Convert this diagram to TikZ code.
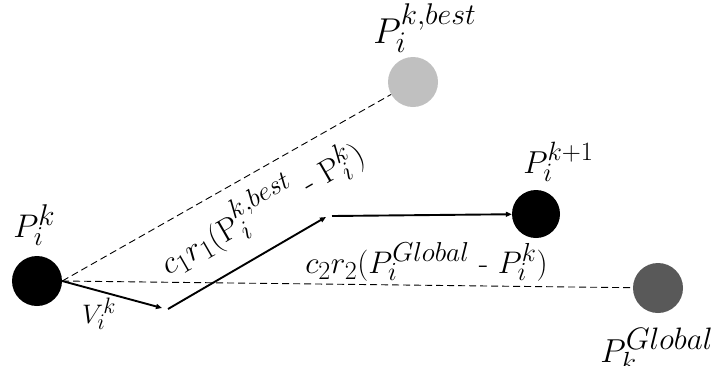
\documentclass[tikz,border=0pt]{standalone}
\usetikzlibrary{arrows.meta}
\definecolor{lgray}{RGB}{192,192,192}
\definecolor{dgray}{RGB}{89,89,89}
\begin{document}
\begin{tikzpicture}[x=1bp,y=-1bp,
  dot/.style={circle,inner sep=0pt,minimum size=50bp},
  guide/.style={dash pattern=on 7bp off 4bp,line width=0.9bp},
  mv/.style={line width=1.9bp,-{Triangle[length=6bp,width=5bp]}},
  lbl/.style={inner sep=0pt,anchor=base west,font=\Huge,transform shape}
]
\useasboundingbox (0,0) rectangle (711,365);
\node[dot,fill=black] (pik) at (37,281) {};
\node[dot,fill=lgray] (pbest) at (413,82) {};
\node[dot,fill=black,minimum size=48bp] (pnext) at (536,214) {};
\node[dot,fill=dgray] (pglob) at (658,288) {};
\coordinate (a1) at (162,308);
\coordinate (a2) at (168,309);
\coordinate (b1) at (326,217);
\coordinate (b2) at (332,216);
\draw[guide] (pik.east) -- (pbest);
\draw[guide] (pik.east) -- (pglob);
\draw[mv] (pik.east) -- (a1);
\draw[mv] (a2) -- (b1);
\draw[mv] (b2) -- (pnext);
\node[lbl,scale=1.32] (lpik) at (13,237) {$P_i^{\scalebox{1.1}{$\scriptstyle k$}}$};
\node[lbl,scale=1.45] (lbest) at (373,43) {$P_i^{k,best}$};
\node[lbl,scale=1.28] (lnext) at (523,173) {$P_i^{k+1}$};
\node[lbl,scale=1.34] (lglob) at (600,362) {$P_k^{\scalebox{1.12}{$\scriptstyle Global$}}$};
\node[lbl,scale=1.08] (lv) at (82,323) {$V_i^k$};
\node[lbl,rotate=30,scale=1.3] (lc1) at (168,276) {$c_1r_1(\mathrm{P}_i^{k,best}$ - $\mathrm{P}_i^k)$};
\node[lbl,scale=1.26] (lc2) at (305,273) {$c_2r_2(P_i^{\scalebox{1.05}{$\scriptstyle Global$}}$ - $P_i^k)$};
\end{tikzpicture}
\end{document}
